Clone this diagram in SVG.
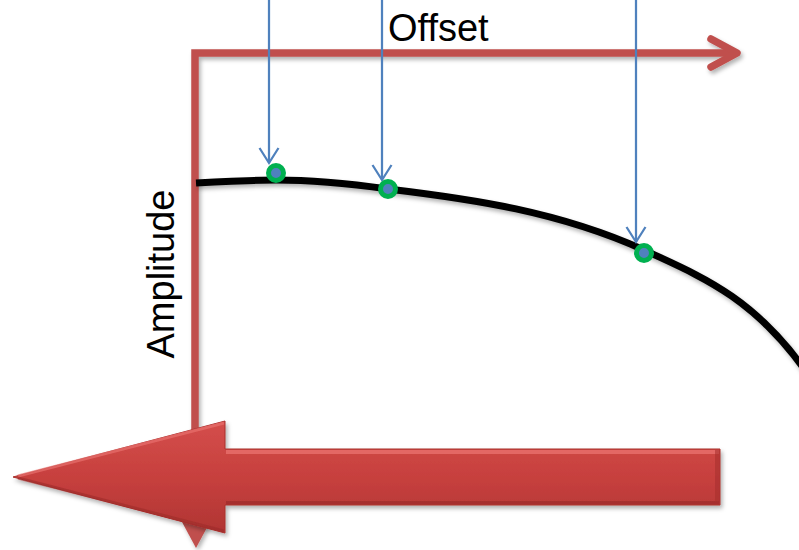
<svg xmlns="http://www.w3.org/2000/svg" width="799" height="550" viewBox="0 0 799 550">
  <style>
    .axis { fill: none; stroke: #C0504D; stroke-width: 7.5; }
    .pointer { fill: none; stroke: #4F81BD; stroke-width: 2.25; }
    .dot { fill: #4F81BD; stroke: #00B050; stroke-width: 5; }
    .label { font-family: "Liberation Sans", Arial, sans-serif; font-size: 38px; fill: #000; }
  </style>
  <defs>
    <filter id="shade" x="-10%" y="-10%" width="120%" height="130%">
      <feDropShadow dx="2" dy="3" stdDeviation="2" flood-color="#000" flood-opacity="0.3"/>
    </filter>
    <linearGradient id="bigArrowFill" x1="0" y1="0" x2="0" y2="1">
      <stop offset="0" stop-color="#D44E4B"/>
      <stop offset="0.5" stop-color="#C7403E"/>
      <stop offset="1" stop-color="#B03533"/>
    </linearGradient>
    <marker id="chev" viewBox="-17 -11 20 22" refX="0" refY="0" markerWidth="20" markerHeight="22" markerUnits="userSpaceOnUse" orient="auto">
      <path d="M-15,-9.5 L0,0 L-15,9.5" fill="none" stroke="#4F81BD" stroke-width="2.25"/>
    </marker>
  </defs>
  <rect width="799" height="550" fill="#FFFFFF"/>

  <!-- axes: amplitude (down) and offset (right) -->
  <g id="axes" filter="url(#shade)">
    <path class="axis" d="M195,530 L195,53 L734,53" stroke-linejoin="miter"/>
    <path class="axis" d="M711,39 L737,53 L711,67" stroke-linecap="round" stroke-linejoin="round"/>
    <polygon points="182,522 210,522 196,548" fill="#C0504D"/>
  </g>

  <!-- response curve -->
  <g id="curve" filter="url(#shade)">
    <path d="M196,183 C222.7,181.4 249.3,180 276,180 C313.3,180 350.7,183.8 388,189 C473.3,199.2 558.7,211.6 644,250 C697.7,275.2 751.3,294.9 805,370" fill="none" stroke="#000" stroke-width="7"/>
  </g>

  <!-- sampling pointers -->
  <g id="connectors">
    <line class="pointer" x1="269" y1="0" x2="269" y2="163" marker-end="url(#chev)"/>
    <line class="pointer" x1="382" y1="0" x2="382" y2="180" marker-end="url(#chev)"/>
    <line class="pointer" x1="636" y1="0" x2="636" y2="242" marker-end="url(#chev)"/>
  </g>

  <!-- sample points -->
  <g id="sample-1"><circle class="dot" cx="276" cy="173" r="7.5"/></g>
  <g id="sample-2"><circle class="dot" cx="388" cy="189" r="7.5"/></g>
  <g id="sample-3"><circle class="dot" cx="644" cy="253" r="7.5"/></g>

  <!-- labels -->
  <g id="label-offset"><text class="label" x="388" y="41">Offset</text></g>
  <g id="label-amplitude"><text class="label" text-anchor="middle" transform="translate(174,274) rotate(-90)">Amplitude</text></g>

  <!-- big left arrow -->
  <g id="big-arrow" filter="url(#shade)">
    <polygon points="13,477 225,421 225,449 720,449 720,505 225,505 225,533" fill="url(#bigArrowFill)" stroke="#A9302E" stroke-width="1"/>
    <rect x="226" y="450" width="493" height="4" fill="#E8716E" opacity="0.8"/>
    <rect x="226" y="501" width="493" height="3.5" fill="#9C2B29" opacity="0.7"/>
    <rect x="715" y="450" width="4.5" height="54" fill="#A9302E" opacity="0.6"/>
    <polyline points="18,476 224,423" fill="none" stroke="#E8716E" stroke-width="3" opacity="0.7"/>
    <polyline points="18,478 224,531" fill="none" stroke="#9C2B29" stroke-width="3" opacity="0.6"/>
  </g>
</svg>
